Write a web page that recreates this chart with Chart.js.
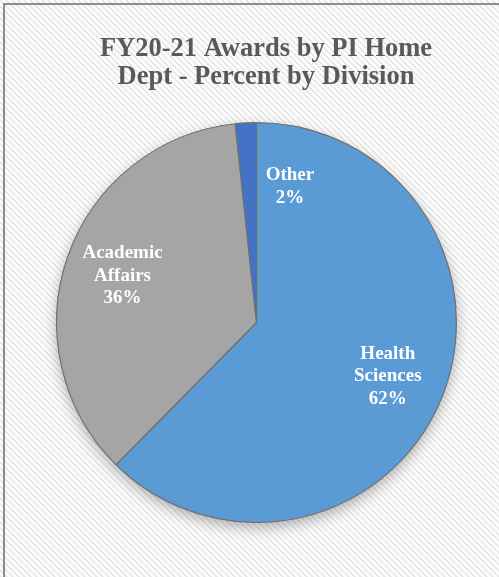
<!DOCTYPE html>
<html>
<head>
<meta charset="utf-8">
<script src="https://cdn.jsdelivr.net/npm/chart.js@4"></script>
<style>
  html, body { margin: 0; padding: 0; background: #fff; }
  #wrap { width: 499px; height: 577px; }
</style>
</head>
<body>
<div id="wrap"><canvas id="pie" width="499" height="577"></canvas></div>
<script>
// data
const divisions = ['Health Sciences', 'Academic Affairs', 'Other'];
const labelLines = [['Health', 'Sciences'], ['Academic', 'Affairs'], ['Other']];
const shares = [62.4, 35.9, 1.7];
const colors = ['#5b9bd5', '#a5a5a5', '#4472c4'];
const titleLines = ['FY20-21 Awards by PI Home', 'Dept - Percent by Division'];

// label placement tweaks (pixel nudge)
const labelNudge = [[0, 0], [0, 0], [41, 6]];
const serif = '"Liberation Serif"';

// hatched background + frame
const background = {
  id: 'background',
  beforeDraw(chart) {
    const ctx = chart.ctx;
    const tile = document.createElement('canvas');
    tile.width = 6; tile.height = 6;
    const t = tile.getContext('2d');
    t.fillStyle = '#ffffff';
    t.fillRect(0, 0, 6, 6);
    t.strokeStyle = '#e9e9e9';
    t.lineWidth = 2;
    t.beginPath();
    t.moveTo(-1, -1); t.lineTo(7, 7);
    t.moveTo(-4, 2); t.lineTo(4, 10);
    t.moveTo(2, -4); t.lineTo(10, 4);
    t.stroke();
    ctx.save();
    ctx.fillStyle = ctx.createPattern(tile, 'repeat');
    ctx.fillRect(0, 0, chart.width, chart.height);
    ctx.strokeStyle = '#8c8c8c';
    ctx.lineWidth = 2;
    ctx.strokeRect(4, 4, chart.width + 10, chart.height + 10);
    ctx.restore();
  }
};

// soft shadow under the pie
const pieShadow = {
  id: 'pieShadow',
  beforeDatasetsDraw(chart) {
    const arc = chart.getDatasetMeta(0).data[0];
    if (!arc) return;
    const ctx = chart.ctx;
    ctx.save();
    ctx.shadowColor = 'rgba(0,0,0,0.30)';
    ctx.shadowBlur = 14;
    ctx.shadowOffsetY = 5;
    ctx.fillStyle = '#ffffff';
    ctx.beginPath();
    ctx.arc(arc.x, arc.y, arc.outerRadius, 0, Math.PI * 2);
    ctx.fill();
    ctx.restore();
  }
};

// white in-slice labels and title
const labels = {
  id: 'labels',
  afterDraw(chart) {
    const ctx = chart.ctx;
    const meta = chart.getDatasetMeta(0);
    const total = shares.reduce((a, b) => a + b, 0);
    ctx.save();
    ctx.fillStyle = '#ffffff';
    ctx.font = 'bold 19px ' + serif;
    ctx.textAlign = 'center';
    ctx.textBaseline = 'middle';
    meta.data.forEach((arc, i) => {
      const mid = (arc.startAngle + arc.endAngle) / 2;
      const r = arc.outerRadius * 0.71;
      const x = arc.x + Math.cos(mid) * r + labelNudge[i][0];
      const y = arc.y + Math.sin(mid) * r + labelNudge[i][1];
      const lines = labelLines[i].concat([Math.round(shares[i] / total * 100) + '%']);
      const lh = 22.5;
      lines.forEach((s, k) => {
        ctx.fillText(s, x, y + (k - (lines.length - 1) / 2) * lh);
      });
    });
    ctx.fillStyle = '#595959';
    ctx.font = 'bold 26.5px ' + serif;
    ctx.textBaseline = 'alphabetic';
    titleLines.forEach((s, k) => {
      ctx.fillText(s, 266, 56 + k * 27.5);
    });
    ctx.restore();
  }
};

new Chart(document.getElementById('pie'), {
  type: 'pie',
  data: {
    labels: divisions,
    datasets: [{
      data: shares,
      backgroundColor: colors,
      borderColor: '#707070',
      borderWidth: 1.2
    }]
  },
  options: {
    responsive: false,
    animation: false,
    layout: { padding: { left: 56, right: 42, top: 122, bottom: 54 } },
    plugins: {
      legend: { display: false },
      tooltip: { enabled: false },
      title: { display: false }
    }
  },
  plugins: [background, pieShadow, labels]
});
</script>
</body>
</html>
